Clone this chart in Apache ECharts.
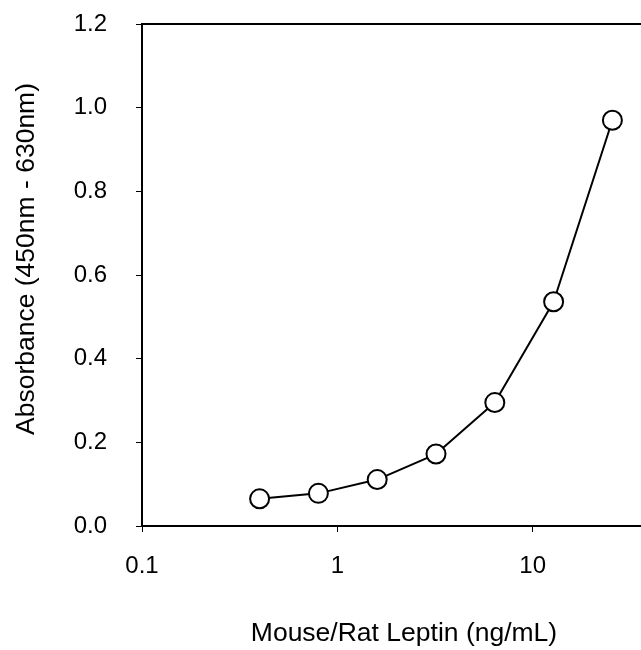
<!DOCTYPE html>
<html>
<head>
<meta charset="utf-8">
<script src="https://cdn.jsdelivr.net/npm/echarts@6/dist/echarts.min.js"></script>
<style>
  html, body { margin: 0; padding: 0; background: #fff; }
  #chart-container { width: 641px; height: 650px; }
</style>
</head>
<body>
<div id="chart-container"></div>
<script>
var concentrations = [0.4, 0.8, 1.6, 3.2, 6.4, 12.8, 25.6];
var absorbance = [0.065, 0.078, 0.111, 0.172, 0.295, 0.536, 0.970];
var xTickLabels = { 0.1: '0.1', 1: '1', 10: '10', 100: '100' };

var dom = document.getElementById('chart-container');
var myChart = echarts.init(dom, null, { renderer: 'canvas' });

var font = 'Liberation Sans, Arial, sans-serif';
var option = {
  animation: false,
  backgroundColor: '#fff',
  grid: {
    left: 142,
    top: 24,
    width: 586,
    bottom: 124,
    show: true,
    borderColor: '#000',
    borderWidth: 2,
    containLabel: false,
    outerBoundsMode: 'none'
  },
  xAxis: {
    type: 'log',
    logBase: 10,
    min: 0.1,
    max: 100,
    name: 'Mouse/Rat Leptin (ng/mL)',
    nameLocation: 'middle',
    nameGap: 94,
    nameTextStyle: { color: '#000', fontSize: 26.5, fontFamily: font, padding: [0, 62, 0, 0] },
    axisLine: { lineStyle: { color: '#000', width: 2 } },
    axisTick: { show: true, inside: false, length: 6, lineStyle: { color: '#000', width: 1 } },
    minorTick: { show: false },
    splitLine: { show: false },
    axisLabel: {
      color: '#000',
      fontSize: 24,
      fontFamily: font,
      margin: 28,
      formatter: function (v) {
        return xTickLabels[v] !== undefined ? xTickLabels[v] : String(v);
      }
    }
  },
  yAxis: {
    type: 'value',
    min: 0,
    max: 1.2,
    interval: 0.2,
    name: 'Absorbance (450nm - 630nm)',
    nameLocation: 'middle',
    nameGap: 102,
    nameTextStyle: { color: '#000', fontSize: 26.5, fontFamily: font, padding: [0, 0, 0, 32] },
    axisLine: { show: true, lineStyle: { color: '#000', width: 2 } },
    axisTick: { show: true, inside: false, length: 6, lineStyle: { color: '#000', width: 1 } },
    splitLine: { show: false },
    axisLabel: {
      color: '#000',
      fontSize: 24,
      fontFamily: font,
      margin: 35,
      formatter: function (v) { return v.toFixed(1); }
    }
  },
  series: [
    {
      type: 'line',
      data: concentrations.map(function (c, i) { return [c, absorbance[i]]; }),
      symbol: 'circle',
      symbolSize: 19,
      showAllSymbol: true,
      lineStyle: { color: '#000', width: 2 },
      itemStyle: { color: '#fff', borderColor: '#000', borderWidth: 2 },
      z: 3
    }
  ]
};

myChart.setOption(option);
window.addEventListener('resize', myChart.resize);
</script>
</body>
</html>
